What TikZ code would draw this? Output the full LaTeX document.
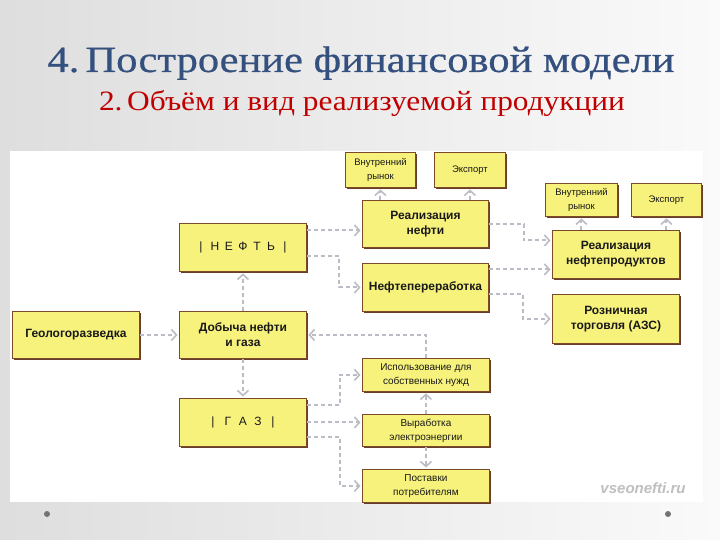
\documentclass[tikz,border=0pt]{standalone}
\usepackage{fontspec}
\setmainfont{Liberation Sans}
\newfontfamily\titlefont[FakeStretch=1.15,FakeBold=0.6]{Liberation Serif}
\newfontfamily\subfont[FakeStretch=1.12]{Liberation Serif}
\usetikzlibrary{arrows.meta,shadows,calc}
\definecolor{boxfill}{HTML}{F7F27C}
\definecolor{boxline}{HTML}{7A4A2A}
\definecolor{boxshadow}{HTML}{5A2A12}
\definecolor{linegray}{HTML}{BCBCC6}
\definecolor{titleblue}{HTML}{34507E}
\definecolor{subred}{HTML}{C00000}
\newcommand\spacedch[2]{\makebox[#1]{#2}}
\tikzset{
  box/.style={draw=boxline, fill=boxfill, line width=0.9pt, inner sep=1pt, align=center,
    anchor=north west, text=black!90,
    drop shadow={shadow xshift=1.2pt, shadow yshift=-1.2pt, fill=boxshadow, opacity=0.9}},
  big/.style={box, font=\bfseries\fontsize{12}{15}\selectfont},
  plain/.style={box, font=\fontsize{12}{15}\selectfont},
  small/.style={box, font=\fontsize{9.5}{14}\selectfont},
  low/.style={box, font=\fontsize{10}{14}\selectfont},
  conn/.style={draw=linegray, line width=2pt, dash pattern=on 4pt off 3pt,
    -{Straight Barb[length=5pt,width=11pt,line width=1.6pt]}, shorten >=1.5pt}
}
\begin{document}
\begin{tikzpicture}[x=1pt,y=-1pt]
\useasboundingbox (0,0) rectangle (720,540);
\shade[left color=black!13, right color=black!2] (0,0) rectangle (720,540);
\fill[white] (10,151) rectangle (703,502);
\fill[black!55] (47,514) circle (3);
\fill[black!55] (668,514) circle (3);

\node[anchor=base, text=titleblue, font=\titlefont\fontsize{37}{41}\selectfont] (title) at (361,72) {4.\,Построение финансовой модели};
\node[anchor=base, text=subred, font=\subfont\fontsize{28}{32}\selectfont] (sub) at (362,111) {2.\,Объём и вид реализуемой продукции};

% boxes
\node[small, minimum width=70pt, minimum height=35pt] (vr1) at (345,152) {Внутренний\\рынок};
\node[small, minimum width=71pt, minimum height=35pt] (ex1) at (434,152) {Экспорт};
\node[big, minimum width=126pt, minimum height=47pt] (rn) at (362,200) {Реализация\\нефти};
\node[big, minimum width=126pt, minimum height=48pt] (np) at (362,263) {Нефтепереработка};
\node[small, minimum width=72pt, minimum height=33pt] (vr2) at (545,183) {Внутренний\\рынок};
\node[small, minimum width=70pt, minimum height=33pt] (ex2) at (631,183) {Экспорт};
\node[big, minimum width=127pt, minimum height=48pt] (rnp) at (552,230) {Реализация\\нефтепродуктов};
\node[big, minimum width=127pt, minimum height=49pt] (rt) at (552,294) {Розничная\\торговля (АЗС)};
\node[plain, minimum width=127pt, minimum height=48pt] (neft) at (179,223)
  {\spacedch{14pt}{|}\spacedch{14pt}{Н}\spacedch{14pt}{Е}\spacedch{14pt}{Ф}\spacedch{14pt}{Т}\spacedch{14pt}{Ь}\spacedch{14pt}{|}};
\node[big, minimum width=127pt, minimum height=47pt] (dob) at (179,311) {Добыча нефти\\и газа};
\node[big, minimum width=127pt, minimum height=47pt] (geo) at (12,311) {Геологоразведка};
\node[plain, minimum width=127pt, minimum height=48pt] (gaz) at (179,398)
  {\spacedch{15pt}{|}\spacedch{15pt}{Г}\spacedch{15pt}{А}\spacedch{15pt}{З}\spacedch{15pt}{|}};
\node[low, minimum width=127pt, minimum height=33pt] (isp) at (362,358) {Использование для\\собственных нужд};
\node[low, minimum width=127pt, minimum height=32pt] (vyr) at (362,414) {Выработка\\электроэнергии};
\node[low, minimum width=127pt, minimum height=33pt] (post) at (362,469) {Поставки\\потребителям};

\node[text=black!25, font=\bfseries\itshape\fontsize{15}{18}\selectfont] (wm) at (643,488) {vseonefti.ru};

% connectors
\draw[conn] (geo.east) -- (dob.west);
\draw[conn] (dob.north) -- (neft.south);
\draw[conn] (dob.south) -- (gaz.north);
\draw[conn] ([yshift=17pt]neft.east) -- ([yshift=17pt]neft.east -| rn.west);
\draw[conn] ([yshift=-9pt]neft.east) -- ++(32,0) |- (np.west);
\draw[conn] (isp.north) |- (dob.east);
\draw[conn] ([yshift=17pt]gaz.east) -- ++(33,0) |- (isp.west);
\draw[conn] (gaz.east) -- (gaz.east -| vyr.west);
\draw[conn] ([yshift=-15pt]gaz.east) -- ++(33,0) |- (post.west);
\draw[conn] (vyr.north) -- (isp.south);
\draw[conn] (vyr.south) -- (post.north);
\draw[conn] (vr1.south |- rn.north) -- (vr1.south);
\draw[conn] (ex1.south |- rn.north) -- (ex1.south);
\draw[conn] (rn.east) -- ++(35,0) |- ([yshift=14pt]rnp.west);
\draw[conn] ([yshift=18pt]np.east) -- ([yshift=18pt]np.east -| rnp.west);
\draw[conn] ([yshift=-7pt]np.east) -- ++(34,0) |- (rt.west);
\draw[conn] (vr2.south |- rnp.north) -- (vr2.south);
\draw[conn] (ex2.south |- rnp.north) -- (ex2.south);
\end{tikzpicture}
\end{document}
